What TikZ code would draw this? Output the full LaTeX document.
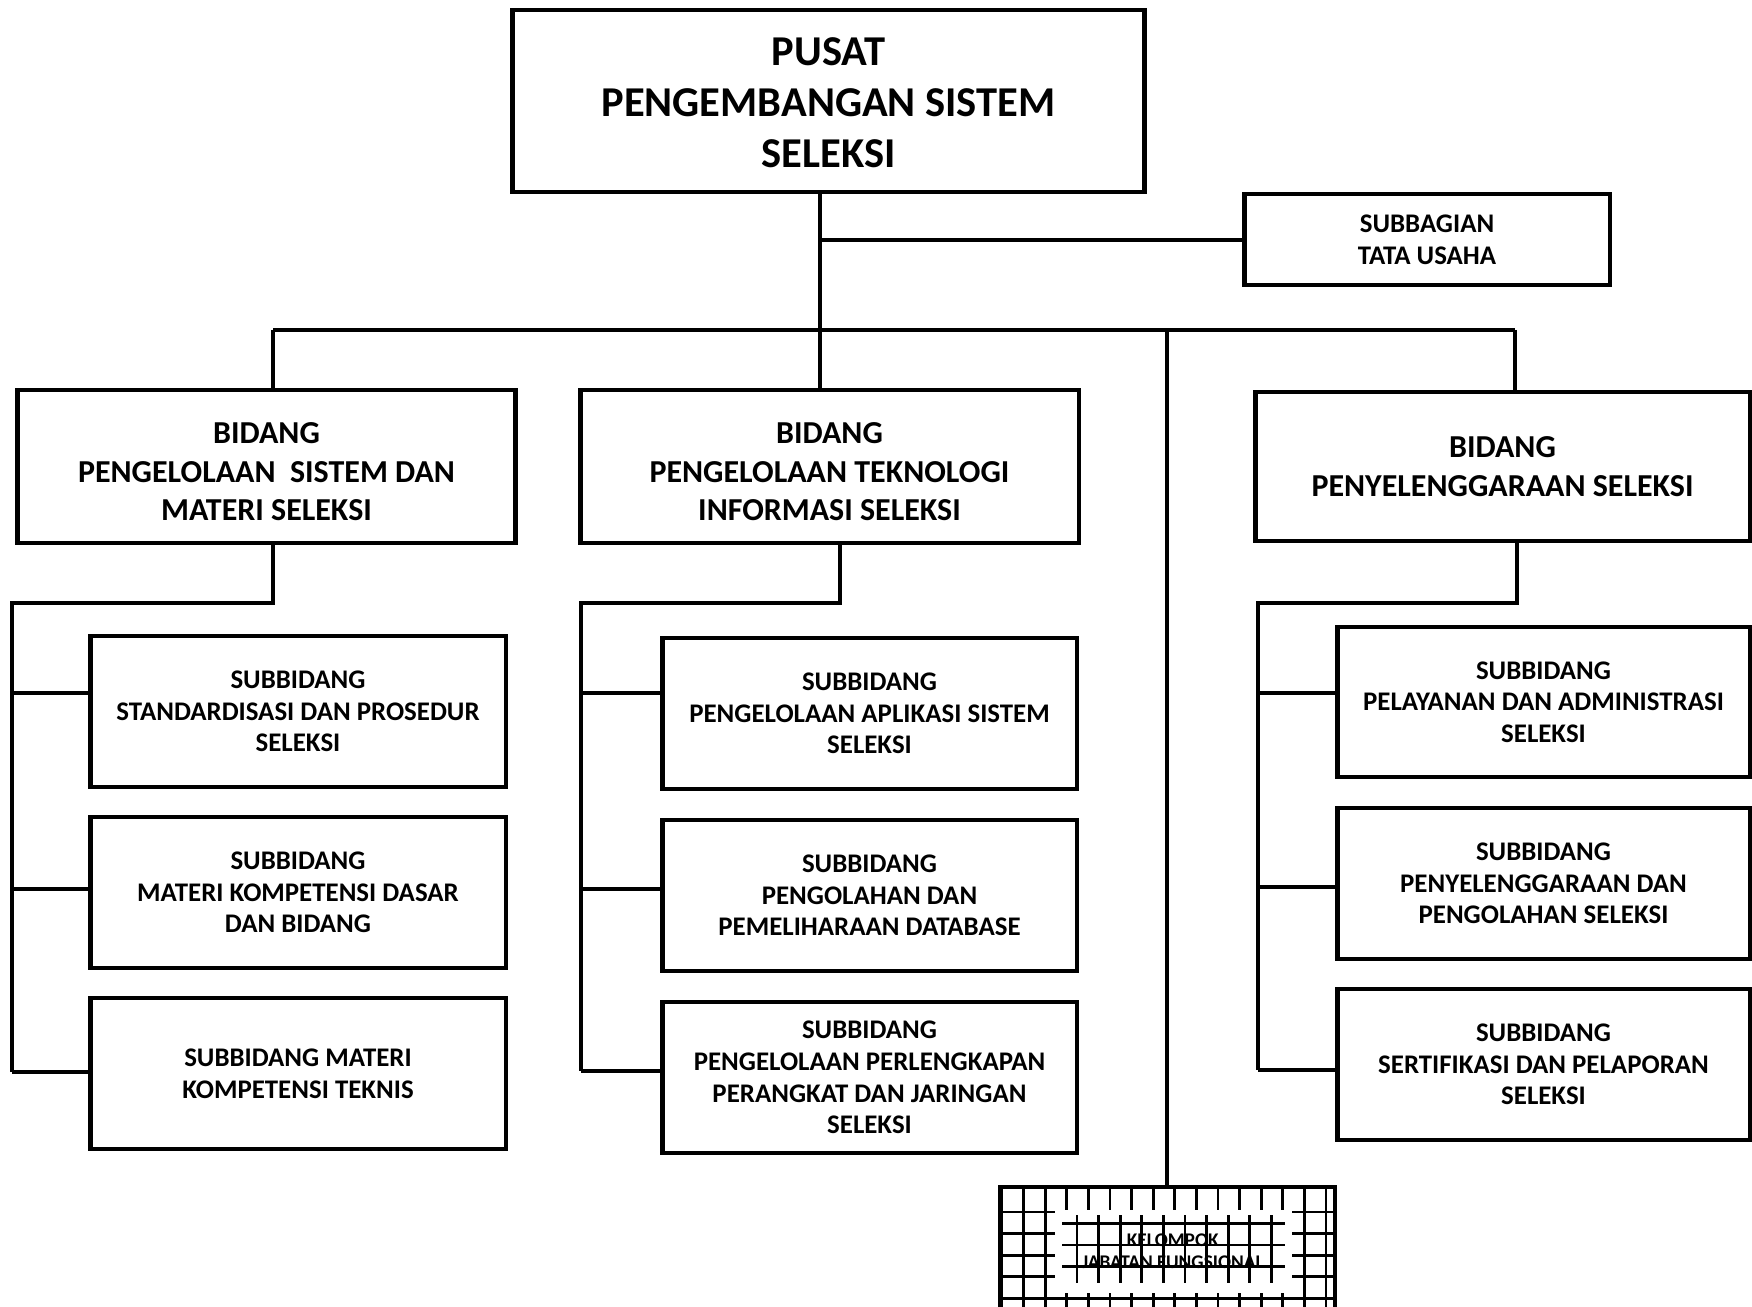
\documentclass[tikz,border=0pt]{standalone}
\usepackage{fontspec}
\setmainfont{Carlito}
% invisible strut that lowers a multi-line label a little
\newcommand\toplinestrut[1]{\rule{0pt}{#1}}
\begin{document}
\begin{tikzpicture}[x=0.02cm, y=-0.02cm,
  box/.style={draw=black, line width=2.8pt, fill=white, inner sep=0pt, align=center},
  sz/.style 2 args={minimum width=#1cm, minimum height=#2cm},
  link/.style={draw=black, line width=2.8pt, line join=miter},
  grid/.style={draw=black, line width=1.6pt},
  titlefont/.style={font=\fontsize{24.2}{29.1}\selectfont\bfseries},
  bidfont/.style={font=\fontsize{18.2}{21.9}\selectfont\bfseries},
  subfont/.style={font=\fontsize{15.3}{18}\selectfont\bfseries},
  smallfont/.style={font=\fontsize{11}{12.3}\selectfont\bfseries}]

% page area
\clip (0,0) rectangle (1752,1307);
\fill[white] (0,0) rectangle (1752,1307);

% head office and its administrative unit
\node[box, titlefont, sz={12.66}{3.64}] (pusat) at (828.5,101) {\toplinestrut{17.5pt}PUSAT\\PENGEMBANGAN SISTEM\\SELEKSI};
\node[box, subfont, sz={7.32}{1.82}] (tu) at (1427,239.5) {SUBBAGIAN\\TATA USAHA};

% divisions
\node[box, bidfont, sz={9.98}{3.06}] (bid1) at (266.5,466.5) {\toplinestrut{17.9pt}BIDANG\\PENGELOLAAN\ \ SISTEM DAN\\MATERI SELEKSI};
\node[box, bidfont, sz={9.98}{3.06}] (bid2) at (829.5,466.5) {\toplinestrut{17.9pt}BIDANG\\PENGELOLAAN TEKNOLOGI\\INFORMASI SELEKSI};
\node[box, bidfont, sz={9.90}{2.98}] (bid3) at (1502.5,466.5) {BIDANG\\PENYELENGGARAAN SELEKSI};

% sub-divisions, first column
\node[box, subfont, sz={8.32}{3.02}] (s11) at (298,711.5) {SUBBIDANG\\STANDARDISASI DAN PROSEDUR\\SELEKSI};
\node[box, subfont, sz={8.32}{3.02}] (s12) at (298,892.5) {SUBBIDANG\\MATERI KOMPETENSI DASAR\\DAN BIDANG};
\node[box, subfont, sz={8.32}{3.02}] (s13) at (298,1073.5) {SUBBIDANG MATERI\\KOMPETENSI TEKNIS};

% sub-divisions, second column
\node[box, subfont, sz={8.30}{3.02}] (s21) at (869.5,713.5) {SUBBIDANG\\PENGELOLAAN APLIKASI SISTEM\\SELEKSI};
\node[box, subfont, sz={8.30}{3.02}] (s22) at (869.5,895.5) {SUBBIDANG\\PENGOLAHAN DAN\\PEMELIHARAAN DATABASE};
\node[box, subfont, sz={8.30}{3.02}] (s23) at (869.5,1077.5) {SUBBIDANG\\PENGELOLAAN PERLENGKAPAN\\PERANGKAT DAN JARINGAN\\SELEKSI};

% sub-divisions, third column
\node[box, subfont, sz={8.26}{3.00}] (s31) at (1543.5,702) {SUBBIDANG\\PELAYANAN DAN ADMINISTRASI\\SELEKSI};
\node[box, subfont, sz={8.26}{3.02}] (s32) at (1543.5,883.5) {SUBBIDANG\\PENYELENGGARAAN DAN\\PENGOLAHAN SELEKSI};
\node[box, subfont, sz={8.26}{3.02}] (s33) at (1543.5,1064.5) {SUBBIDANG\\SERTIFIKASI DAN PELAPORAN\\SELEKSI};

% functional group: grid-patterned box
\begin{scope}
  \clip (1000,1187) rectangle (1335,1315);
  \foreach \k in {0,...,14} \draw[grid] ({1023.5+21.6*\k},1187) -- ({1023.5+21.6*\k},1315);
  \foreach \k in {0,...,4} \draw[grid] (1000,{1212+21.6*\k}) -- (1335,{1212+21.6*\k});
\end{scope}
\fill[white] (1055,1210) rectangle (1292,1293);
\foreach \k in {0,...,9} \draw[grid] ({1077+21.6*\k},1215) -- ({1077+21.6*\k},1283);
\foreach \y in {1223.5,1245,1266.5} \draw[grid] (1062,\y) -- (1285,\y);
\node[draw=black, line width=2.8pt, inner sep=0pt, align=center, smallfont, sz={6.70}{2.56}] (kjf) at (1167.5,1251) {\hspace*{6pt}KELOMPOK\\\hspace*{6pt}JABATAN FUNGSIONAL};

% junction points
\coordinate (trunk) at (820,330);
\coordinate (tuJoint) at (820,240);
\coordinate (barL) at (273,330);
\coordinate (barR) at (1515,330);
\coordinate (kjfJoint) at (1167,330);

\coordinate (c1top) at (273,603);
\coordinate (c1L) at (12,603);
\coordinate (c1a) at (12,693);
\coordinate (c1b) at (12,889);
\coordinate (c1c) at (12,1072);

\coordinate (c2top) at (840,603);
\coordinate (c2L) at (581,603);
\coordinate (c2a) at (581,693);
\coordinate (c2b) at (581,889);
\coordinate (c2c) at (581,1071);

\coordinate (c3top) at (1517,603);
\coordinate (c3L) at (1258,603);
\coordinate (c3a) at (1258,693);
\coordinate (c3b) at (1258,887);
\coordinate (c3c) at (1258,1070);

% upper connectors
\draw[link] (pusat.south -| trunk) -- (trunk);
\draw[link] (tuJoint) -- (tuJoint -| tu.west);
\draw[link] (barL) -- (barR);
\draw[link] (barL) -- (barL |- bid1.north);
\draw[link] (trunk) -- (trunk |- bid2.north);
\draw[link] (barR) -- (barR |- bid3.north);
\draw[link] (kjfJoint) -- (kjfJoint |- kjf.north);

% first column connectors
\draw[link] (c1top |- bid1.south) -- (c1top) -- (c1L) -- (c1c);
\draw[link] (c1a) -- (c1a -| s11.west);
\draw[link] (c1b) -- (c1b -| s12.west);
\draw[link] (c1c) -- (c1c -| s13.west);

% second column connectors
\draw[link] (c2top |- bid2.south) -- (c2top) -- (c2L) -- (c2c);
\draw[link] (c2a) -- (c2a -| s21.west);
\draw[link] (c2b) -- (c2b -| s22.west);
\draw[link] (c2c) -- (c2c -| s23.west);

% third column connectors
\draw[link] (c3top |- bid3.south) -- (c3top) -- (c3L) -- (c3c);
\draw[link] (c3a) -- (c3a -| s31.west);
\draw[link] (c3b) -- (c3b -| s32.west);
\draw[link] (c3c) -- (c3c -| s33.west);
\end{tikzpicture}
\end{document}
